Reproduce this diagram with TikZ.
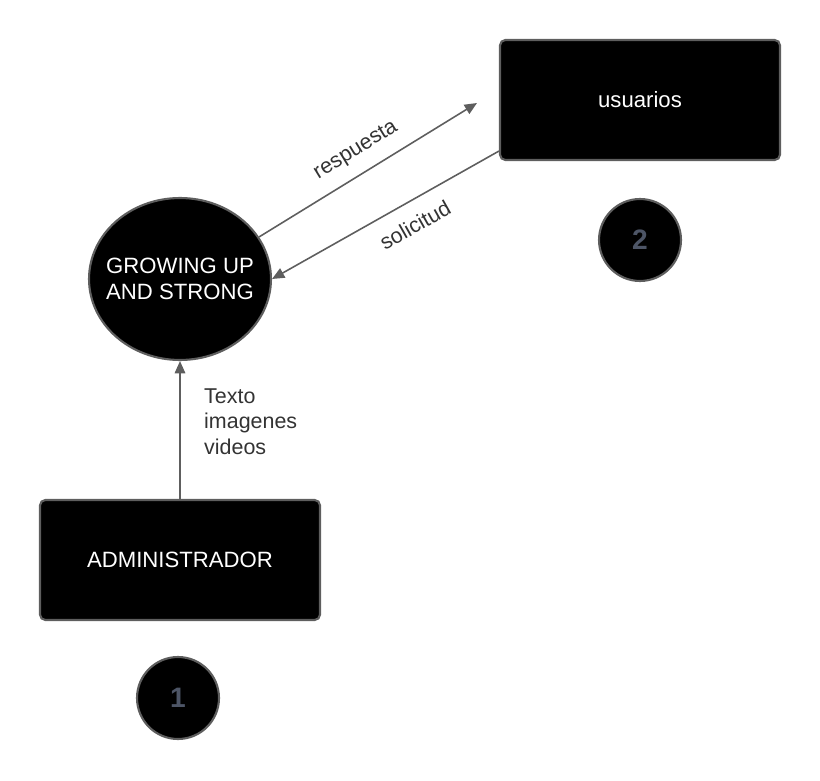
\documentclass[tikz,border=0pt]{standalone}
\usepackage{fontspec}
\setmainfont{Liberation Sans}
\usetikzlibrary{shapes.geometric,calc,arrows.meta}
\definecolor{G1}{HTML}{5E5E5E}
\definecolor{G2}{HTML}{333333}
\definecolor{G3}{HTML}{4D5566}
\tikzset{
  entity/.style={draw=G1,line width=1.2pt,fill=black,rounded corners=3pt,minimum width=5.6cm,minimum height=2.4cm,text=white,font=\fontsize{12.6}{15}\selectfont},
  process/.style={ellipse,draw=G1,line width=1.2pt,fill=black,minimum width=3.64cm,minimum height=3.24cm,inner xsep=-7pt,inner ysep=0pt,text=white,align=center,font=\fontsize{12.6}{14.8}\selectfont},
  tag/.style={circle,draw=G1,line width=1.2pt,fill=black,minimum size=1.64cm,inner sep=0pt,text=G3,font=\fontsize{16}{19}\selectfont\bfseries},
  flow/.style={-{Triangle[length=7pt,width=6pt]},G1,line width=0.9pt},
  flowtext/.style={text=G2,font=\fontsize{12.2}{14.7}\selectfont}
}
\begin{document}
\begin{tikzpicture}[x=0.02cm,y=-0.02cm]
        \useasboundingbox (0,0) rectangle (820,780);
        \node [entity] (users) at (640,100) {usuarios};
        \node [entity] (admin) at (180,560) {ADMINISTRADOR};
        \node [process] (gs) at (180,279) {GROWING UP\\AND STRONG};
        \node [tag] (n2) at (640,240) {2};
        \node [tag] (n1) at (178,698) {1};
        \coordinate (resp) at ($(users.west)+(-22,3)$);
        \coordinate (soli) at ($(users.south west)+(0,-10)$);
        \draw [flow] (gs.28) -- (resp) node [flowtext,midway,sloped,above=4pt] {respuesta};
        \draw [flow] (soli) -- (gs.east) node [flowtext,pos=0.42,sloped,below=5pt] {solicitud};
        \draw [flow] (admin.north) -- (gs.south) node [flowtext,pos=0.56,right=10pt,align=left] {Texto\\imagenes\\videos};
    \end{tikzpicture}
\end{document}
